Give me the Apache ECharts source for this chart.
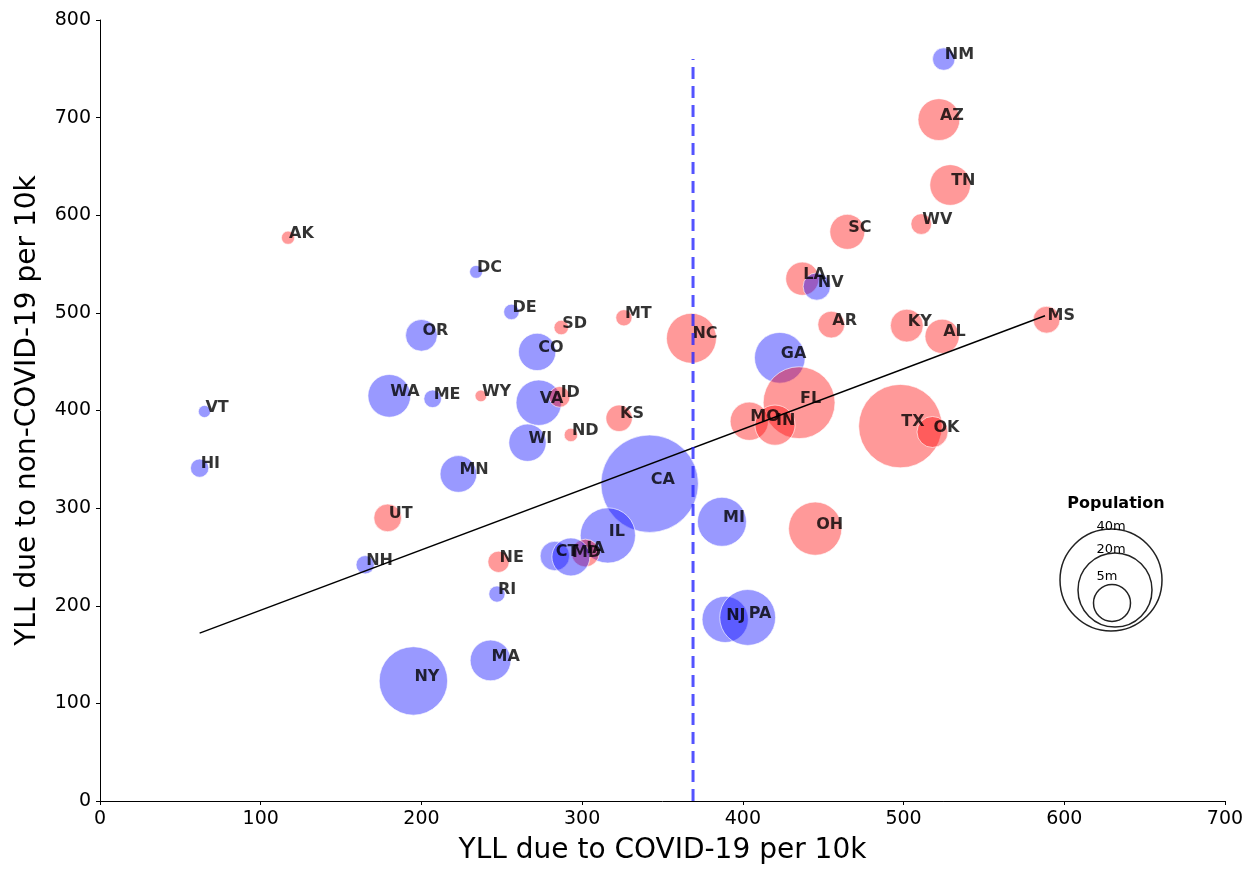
<!DOCTYPE html>
<html>
<head>
<meta charset="utf-8">
<script src="https://cdn.jsdelivr.net/npm/echarts@6/dist/echarts.min.js"></script>
<style>html,body{margin:0;padding:0;background:#fff}#c{width:1255px;height:870px}</style>
</head>
<body>
<div id="c"></div>
<script>
const states = ['NM','AZ','TN','WV','SC','AK','DC','DE','SD','MT','OR','CO','NC','AR','KY','AL','MS','LA','NV','GA','FL','MO','IN','TX','OK','WA','ME','WY','VA','ID','KS','ND','WI','VT','HI','MN','CA','UT','MI','OH','IL','CT','IA','MD','NE','NH','RI','NJ','PA','MA','NY'];
const covidYLL = [525,522,529,511,465,117,234,256,287,326,200,272,368,455,502,524,589,437,446,423,435,404,420,498,518,180,207,237,273,286,323,293,266,65,62,223,342,179,387,445,316,283,302,293,248,165,247,389,403,243,195];
const nonCovidYLL = [760,698,631,591,583,577,542,501,485,495,477,460,474,488,487,476,493,535,527,454,408,389,385,384,378,415,412,415,408,414,392,375,367,399,341,335,325,290,286,279,272,251,254,250,245,242,212,186,188,144,123];
const population = [2.1,7.3,6.9,1.8,5.1,0.73,0.7,1.0,0.88,1.1,4.2,5.8,10.4,3.0,4.5,4.9,3.0,4.6,3.1,10.7,21.5,6.1,6.7,29.0,4.0,7.6,1.3,0.58,8.6,1.8,2.9,0.76,5.8,0.62,1.4,5.6,39.5,3.2,10.0,11.8,12.7,3.6,3.2,6.0,1.9,1.4,1.1,8.9,13.0,6.9,19.5];
const party = ['D','R','R','R','R','R','D','D','R','R','D','D','R','R','R','R','R','R','D','D','R','R','R','R','R','D','D','R','D','R','R','R','D','D','D','D','D','R','D','R','D','D','R','D','R','D','D','D','D','D','D'];
const trendLine = [[62,172],[588,497]];
const thresholdX = 369;
const thresholdTop = 760;
const xTicks = [0,100,200,300,400,500,600,700];
const yTicks = [0,100,200,300,400,500,600,700,800];
const legendPops = [40,20,5];

const FONT = 'DejaVu Sans';
const scale = 98; // diameter px for 40m
function sizeOf(p){ return scale*Math.sqrt(p/40); }

const pts = states.map((s,i)=>({
  value:[covidYLL[i], nonCovidYLL[i], population[i], s],
  itemStyle:{color: party[i]==='R' ? 'rgba(255,0,0,0.5)' : 'rgba(0,0,255,0.5)'}
}));

const chart = echarts.init(document.getElementById('c'), null, {renderer:'canvas'});
chart.setOption({
  animation:false,
  backgroundColor:'#fff',
  grid:{left:100, right:30, top:20, bottom:66, containLabel:false},
  xAxis:{
    type:'value', min:xTicks[0], max:xTicks[xTicks.length-1], interval:100,
    name:'YLL due to COVID-19 per 10k', nameLocation:'middle', nameGap:36,
    nameTextStyle:{fontFamily:FONT, fontSize:28, color:'#000'},
    axisLine:{show:true, lineStyle:{color:'#000', width:1}},
    axisTick:{show:true, length:4, lineStyle:{color:'#000'}},
    axisLabel:{fontFamily:FONT, fontSize:19, color:'#000', margin:9},
    splitLine:{show:false}
  },
  yAxis:{
    type:'value', min:yTicks[0], max:yTicks[yTicks.length-1], interval:100,
    name:'YLL due to non-COVID-19 per 10k', nameLocation:'middle', nameGap:58,
    nameTextStyle:{fontFamily:FONT, fontSize:28, color:'#000'},
    axisLine:{show:true, lineStyle:{color:'#000', width:1}},
    axisTick:{show:true, length:4, lineStyle:{color:'#000'}},
    axisLabel:{fontFamily:FONT, fontSize:19, color:'#000', margin:9},
    splitLine:{show:false}
  },
  series:[
    {
      type:'scatter', z:2,
      data:pts,
      symbolSize:function(v){ return sizeOf(v[2]); },
      itemStyle:{borderColor:'rgba(255,255,255,0.8)', borderWidth:1},
      label:{show:true, formatter:function(p){return p.value[3];}, position:['50%','50%'],
        align:'left', verticalAlign:'middle', offset:[1,-4],
        fontFamily:FONT, fontWeight:'bold', fontSize:16, color:'#000'},
      emphasis:{disabled:true}
    },
    {
      type:'line', z:3, data:trendLine, symbol:'none',
      lineStyle:{color:'#000', width:1.5}
    },
    {
      type:'line', z:3, data:[[thresholdX,0],[thresholdX,thresholdTop]], symbol:'none',
      lineStyle:{color:'rgba(40,40,255,0.8)', width:3, type:[12,7]}
    }
  ],
  graphic:[
    {type:'text', x:1116, y:504, style:{text:'Population', fontFamily:FONT, fontWeight:'bold', fontSize:16, fill:'#000', align:'center', verticalAlign:'middle'}},
    {type:'circle', shape:{cx:1111, cy:580, r:51}, style:{fill:'none', stroke:'#222', lineWidth:1.5}},
    {type:'circle', shape:{cx:1115, cy:590, r:37}, style:{fill:'none', stroke:'#222', lineWidth:1.5}},
    {type:'circle', shape:{cx:1112, cy:603, r:18.5}, style:{fill:'none', stroke:'#222', lineWidth:1.5}},
    {type:'text', x:1111, y:527, style:{text:legendPops[0]+'m', fontFamily:FONT, fontSize:13, fill:'#000', align:'center', verticalAlign:'middle'}},
    {type:'text', x:1111, y:550, style:{text:legendPops[1]+'m', fontFamily:FONT, fontSize:13, fill:'#000', align:'center', verticalAlign:'middle'}},
    {type:'text', x:1107, y:577, style:{text:legendPops[2]+'m', fontFamily:FONT, fontSize:13, fill:'#000', align:'center', verticalAlign:'middle'}}
  ]
});
</script>
</body>
</html>
